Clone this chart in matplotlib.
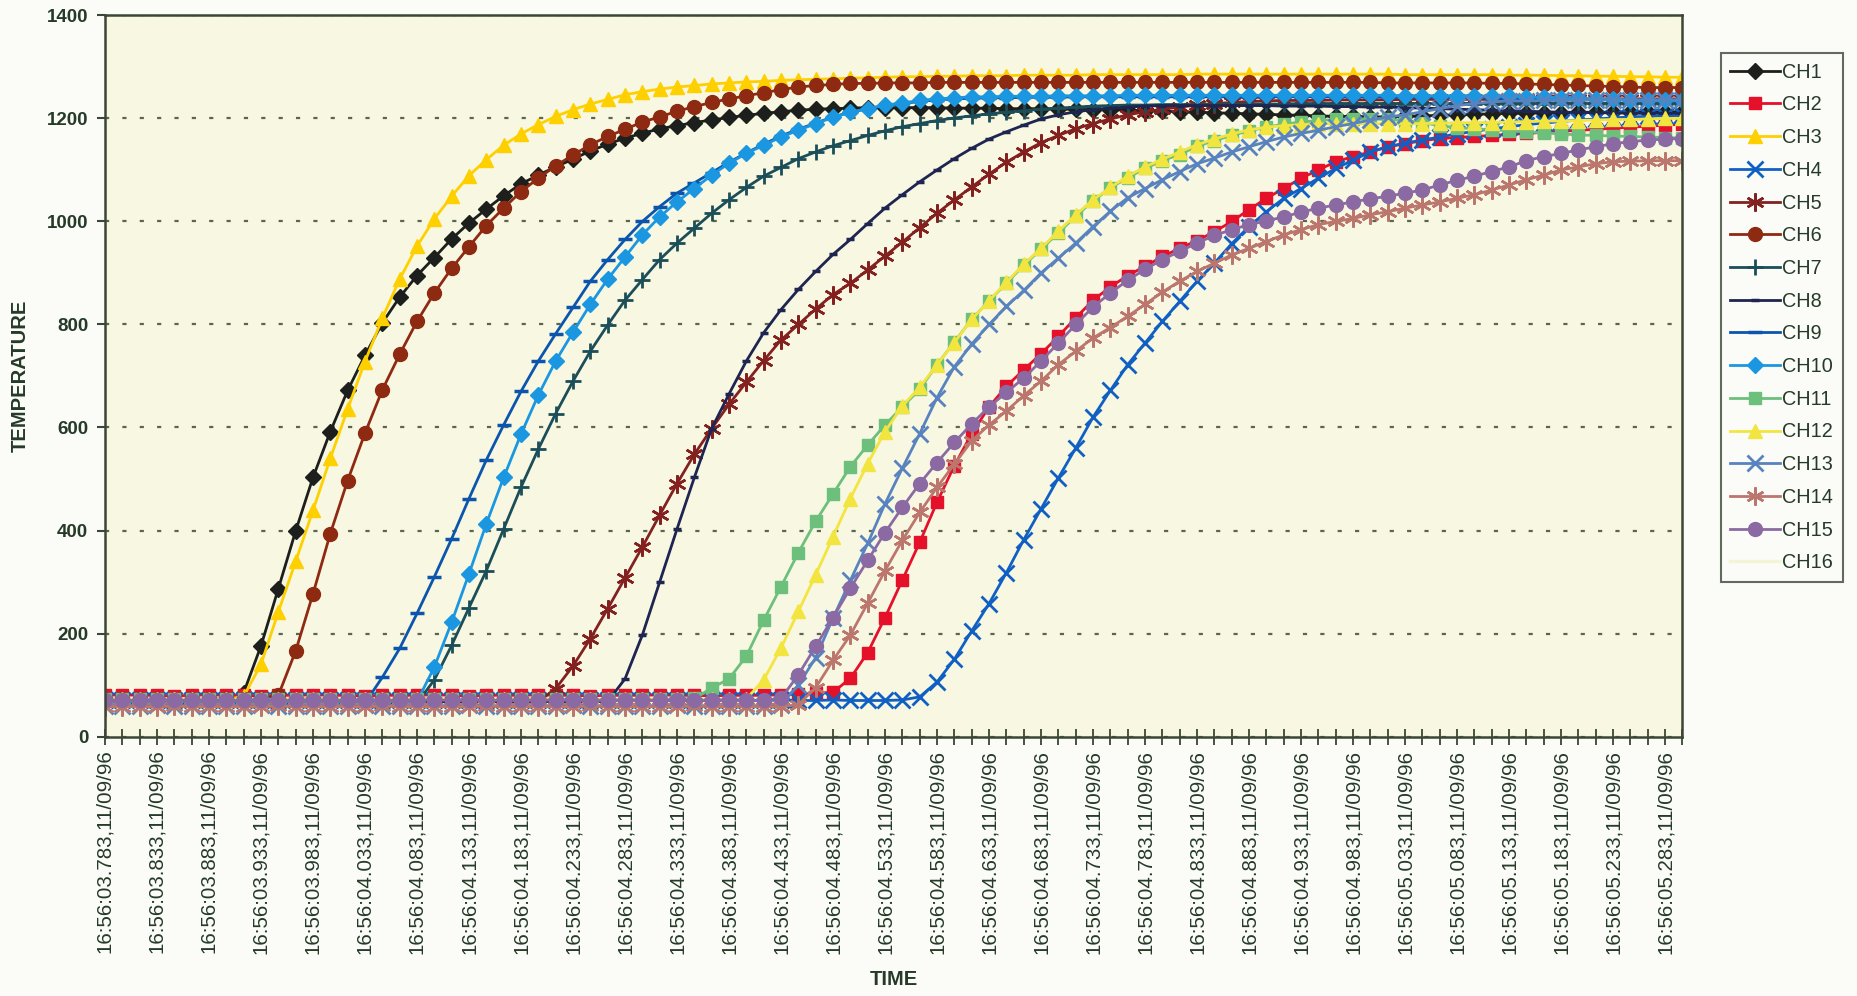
import matplotlib
matplotlib.use("Agg")
import matplotlib.pyplot as plt
import numpy as np

plt.rcParams['font.family'] = ['Liberation Sans', 'DejaVu Sans']
plt.rcParams['lines.scale_dashes'] = False

# tick labels (every third sample carries a label)
time_labels = [
    "16:56:03.783", "16:56:03.833", "16:56:03.883", "16:56:03.933", "16:56:03.983",
    "16:56:04.033", "16:56:04.083", "16:56:04.133", "16:56:04.183", "16:56:04.233",
    "16:56:04.283", "16:56:04.333", "16:56:04.383", "16:56:04.433", "16:56:04.483",
    "16:56:04.533", "16:56:04.583", "16:56:04.633", "16:56:04.683", "16:56:04.733",
    "16:56:04.783", "16:56:04.833", "16:56:04.883", "16:56:04.933", "16:56:04.983",
    "16:56:05.033", "16:56:05.083", "16:56:05.133", "16:56:05.183", "16:56:05.233",
    "16:56:05.283",
]
date_label = "11/09/96"
n_samples = 92

ch1 = [72, 72, 71, 72, 72, 71, 72, 73, 85, 176, 287, 399, 503, 592, 672, 740, 803, 853, 895, 930,
       966, 997, 1024, 1050, 1073, 1090, 1106, 1121, 1137, 1150, 1162, 1171, 1180, 1186, 1192, 1197, 1202, 1206, 1210, 1213,
       1216, 1218, 1219, 1220, 1221, 1221, 1221, 1221, 1221, 1220, 1220, 1220, 1219, 1219, 1219, 1218, 1218, 1217, 1217, 1216,
       1215, 1214, 1213, 1212, 1211, 1210, 1209, 1208, 1207, 1206, 1205, 1204, 1204, 1203, 1203, 1204, 1205, 1206, 1207, 1208,
       1209, 1210, 1210, 1211, 1211, 1212, 1212, 1212, 1213, 1213, 1213, 1213]
ch2 = [80, 81, 80, 80, 79, 80, 81, 80, 80, 79, 80, 80, 81, 80, 80, 79, 80, 80, 80, 81,
       80, 79, 80, 80, 80, 81, 80, 80, 79, 80, 80, 80, 81, 80, 80, 79, 80, 80, 80, 81,
       82, 84, 86, 113, 163, 231, 304, 377, 455, 526, 588, 640, 680, 712, 743, 777, 813, 847, 873, 895,
       913, 932, 948, 963, 980, 1000, 1023, 1045, 1064, 1084, 1100, 1116, 1126, 1135, 1145, 1151, 1157, 1161, 1163, 1165,
       1167, 1169, 1171, 1173, 1175, 1177, 1179, 1181, 1183, 1185, 1187, 1189]
ch3 = [72, 72, 72, 71, 72, 72, 72, 72, 78, 140, 242, 340, 439, 540, 636, 728, 812, 888, 952, 1005,
       1049, 1089, 1120, 1148, 1170, 1188, 1204, 1217, 1228, 1237, 1246, 1252, 1257, 1261, 1264, 1267, 1269, 1271, 1272, 1274,
       1275, 1276, 1277, 1278, 1279, 1280, 1281, 1281, 1282, 1282, 1283, 1283, 1283, 1284, 1284, 1284, 1284, 1285, 1285, 1285,
       1285, 1285, 1285, 1286, 1286, 1286, 1286, 1286, 1286, 1286, 1286, 1286, 1286, 1286, 1286, 1285, 1285, 1285, 1285, 1285,
       1285, 1284, 1284, 1284, 1283, 1283, 1282, 1282, 1281, 1281, 1280, 1280]
ch4 = [70, 70, 71, 70, 70, 70, 71, 70, 70, 70, 70, 71, 70, 70, 70, 70, 71, 70, 70, 70,
       70, 71, 70, 70, 70, 70, 71, 70, 70, 70, 70, 71, 70, 70, 70, 70, 71, 70, 70, 71,
       70, 70, 71, 70, 70, 70, 71, 77, 106, 150, 205, 258, 318, 382, 442, 502, 560, 620, 672, 722,
       764, 806, 845, 884, 919, 957, 990, 1019, 1045, 1064, 1084, 1103, 1119, 1135, 1145, 1152, 1158, 1164, 1170, 1175,
       1180, 1184, 1188, 1191, 1194, 1197, 1199, 1201, 1203, 1204, 1205, 1206]
ch5 = [68, 68, 68, 67, 68, 68, 68, 68, 67, 68, 68, 68, 68, 67, 68, 68, 68, 68, 67, 68,
       68, 68, 68, 67, 68, 68, 93, 137, 190, 248, 308, 368, 430, 491, 548, 598, 645, 688, 730, 770,
       800, 830, 858, 880, 906, 933, 960, 988, 1016, 1042, 1067, 1092, 1115, 1135, 1153, 1167, 1180, 1190, 1199, 1207,
       1213, 1218, 1222, 1226, 1229, 1231, 1233, 1234, 1235, 1235, 1235, 1236, 1236, 1236, 1236, 1237, 1237, 1237, 1237, 1237,
       1237, 1238, 1238, 1238, 1238, 1238, 1238, 1238, 1238, 1238, 1238, 1238]
ch6 = [72, 72, 72, 72, 71, 72, 72, 72, 72, 72, 80, 166, 277, 394, 497, 589, 673, 742, 806, 861,
       909, 951, 992, 1026, 1058, 1084, 1108, 1129, 1149, 1165, 1179, 1193, 1203, 1214, 1223, 1231, 1238, 1244, 1250, 1256,
       1261, 1264, 1266, 1268, 1268, 1269, 1269, 1269, 1270, 1270, 1270, 1270, 1270, 1270, 1270, 1270, 1270, 1270, 1270, 1270,
       1270, 1270, 1270, 1270, 1270, 1270, 1270, 1270, 1270, 1270, 1270, 1270, 1270, 1270, 1269, 1269, 1269, 1269, 1269, 1269,
       1268, 1268, 1267, 1266, 1265, 1264, 1263, 1262, 1261, 1260, 1260, 1260]
ch7 = [65, 65, 65, 65, 65, 64, 65, 65, 65, 65, 65, 65, 64, 65, 65, 65, 65, 65, 65, 110,
       177, 250, 322, 403, 484, 558, 627, 690, 748, 799, 847, 887, 926, 958, 987, 1016, 1042, 1066, 1088, 1105,
       1122, 1135, 1147, 1157, 1167, 1176, 1184, 1190, 1196, 1201, 1205, 1209, 1212, 1215, 1218, 1220, 1222, 1224, 1225, 1226,
       1226, 1227, 1227, 1227, 1228, 1228, 1228, 1228, 1228, 1229, 1229, 1229, 1229, 1229, 1229, 1229, 1229, 1229, 1229, 1229,
       1229, 1229, 1229, 1229, 1229, 1229, 1229, 1229, 1229, 1229, 1229, 1229]
ch8 = [68, 68, 68, 68, 68, 67, 68, 68, 68, 68, 68, 68, 67, 68, 68, 68, 68, 68, 68, 68,
       67, 68, 68, 68, 68, 68, 68, 67, 68, 68, 112, 197, 300, 403, 503, 598, 665, 729, 784, 829,
       868, 903, 936, 965, 996, 1026, 1052, 1077, 1100, 1122, 1142, 1160, 1174, 1187, 1199, 1207, 1213, 1217, 1220, 1222,
       1224, 1225, 1225, 1225, 1225, 1225, 1225, 1225, 1224, 1224, 1224, 1223, 1223, 1222, 1222, 1221, 1220, 1219, 1218, 1217,
       1216, 1215, 1214, 1213, 1212, 1212, 1211, 1211, 1210, 1210, 1210, 1210]
ch9 = [65, 65, 65, 65, 64, 65, 65, 65, 65, 65, 65, 64, 65, 65, 65, 65, 115, 171, 239, 310,
       384, 462, 537, 605, 670, 729, 782, 833, 884, 926, 965, 1000, 1029, 1055, 1075, 1095, 1115, 1133, 1150, 1166,
       1179, 1191, 1203, 1212, 1219, 1225, 1229, 1233, 1236, 1238, 1239, 1240, 1240, 1241, 1241, 1241, 1242, 1242, 1242, 1242,
       1242, 1242, 1242, 1242, 1242, 1242, 1242, 1242, 1242, 1242, 1242, 1242, 1242, 1242, 1241, 1241, 1241, 1241, 1240, 1240,
       1240, 1239, 1239, 1238, 1238, 1237, 1237, 1236, 1236, 1235, 1235, 1235]
ch10 = [68, 68, 68, 68, 68, 68, 67, 68, 68, 68, 68, 68, 68, 67, 68, 68, 68, 68, 68, 135,
        222, 316, 413, 503, 587, 663, 729, 785, 839, 888, 931, 974, 1009, 1038, 1064, 1090, 1113, 1132, 1148, 1164,
        1177, 1190, 1202, 1212, 1219, 1226, 1230, 1235, 1238, 1240, 1242, 1242, 1243, 1243, 1243, 1244, 1244, 1244, 1244, 1245,
        1245, 1245, 1245, 1245, 1245, 1245, 1245, 1245, 1245, 1245, 1245, 1245, 1245, 1245, 1245, 1244, 1244, 1244, 1244, 1244,
        1243, 1243, 1242, 1241, 1240, 1239, 1238, 1237, 1236, 1235, 1235, 1235]
ch11 = [72, 72, 72, 72, 72, 73, 72, 72, 72, 72, 72, 72, 73, 72, 72, 72, 72, 72, 72, 73,
        72, 72, 72, 72, 72, 72, 73, 72, 72, 72, 72, 72, 72, 73, 74, 94, 112, 156, 226, 291,
        357, 418, 471, 524, 566, 605, 640, 674, 722, 766, 810, 846, 880, 915, 946, 978, 1010, 1040, 1065, 1085,
        1103, 1118, 1130, 1146, 1157, 1167, 1176, 1183, 1189, 1193, 1196, 1198, 1199, 1199, 1198, 1196, 1192, 1186, 1182, 1180,
        1178, 1176, 1174, 1172, 1170, 1168, 1167, 1166, 1165, 1164, 1163, 1162]
ch12 = [72, 72, 72, 72, 73, 72, 72, 72, 72, 72, 72, 73, 72, 72, 72, 72, 72, 72, 73, 72,
        72, 72, 72, 72, 72, 73, 72, 72, 72, 72, 72, 72, 73, 72, 72, 72, 72, 73, 110, 172,
        243, 314, 388, 462, 530, 592, 642, 678, 722, 765, 810, 846, 882, 917, 948, 981, 1013, 1042, 1066, 1088,
        1106, 1121, 1135, 1149, 1160, 1170, 1178, 1183, 1186, 1188, 1189, 1190, 1190, 1190, 1190, 1190, 1190, 1191, 1191, 1192,
        1192, 1193, 1194, 1195, 1195, 1196, 1197, 1198, 1198, 1199, 1200, 1200]
ch13 = [60, 60, 60, 61, 60, 60, 60, 60, 60, 61, 60, 60, 60, 60, 60, 61, 60, 60, 60, 60,
        60, 61, 60, 60, 60, 60, 60, 61, 60, 60, 60, 60, 60, 61, 60, 60, 60, 60, 60, 62,
        100, 153, 230, 303, 375, 452, 521, 588, 658, 718, 762, 800, 835, 866, 900, 929, 958, 990, 1020, 1046,
        1064, 1081, 1097, 1112, 1123, 1135, 1145, 1155, 1164, 1171, 1177, 1184, 1190, 1197, 1203, 1207, 1213, 1219, 1225, 1229,
        1232, 1234, 1234, 1235, 1235, 1235, 1236, 1236, 1236, 1236, 1236, 1236]
ch14 = [58, 58, 58, 58, 59, 58, 58, 58, 58, 58, 59, 58, 58, 58, 58, 58, 59, 58, 58, 58,
        58, 58, 59, 58, 58, 58, 58, 58, 59, 58, 58, 58, 58, 58, 59, 58, 58, 58, 58, 58,
        62, 95, 148, 197, 259, 322, 381, 435, 484, 529, 574, 605, 632, 662, 690, 722, 748, 774, 794, 816,
        839, 863, 884, 903, 919, 935, 948, 961, 974, 984, 994, 1000, 1006, 1013, 1019, 1026, 1032, 1038, 1045, 1052,
        1061, 1071, 1081, 1090, 1100, 1106, 1112, 1116, 1117, 1118, 1118, 1118]
ch15 = [70, 70, 70, 70, 70, 71, 70, 70, 70, 70, 70, 70, 71, 70, 70, 70, 70, 70, 70, 71,
        70, 70, 70, 70, 70, 70, 71, 70, 70, 70, 70, 70, 70, 71, 70, 70, 70, 70, 70, 74,
        120, 175, 231, 288, 342, 396, 445, 491, 532, 571, 607, 640, 668, 696, 729, 764, 800, 834, 861, 886,
        907, 926, 942, 958, 973, 984, 994, 1001, 1009, 1018, 1026, 1032, 1038, 1044, 1049, 1055, 1061, 1071, 1080, 1088,
        1097, 1106, 1118, 1126, 1132, 1139, 1145, 1151, 1155, 1158, 1160, 1161]
ch16 = []  # only appears in the legend, too pale to read on the chart

channels = ["CH1", "CH2", "CH3", "CH4", "CH5", "CH6", "CH7", "CH8",
            "CH9", "CH10", "CH11", "CH12", "CH13", "CH14", "CH15", "CH16"]
series = [ch1, ch2, ch3, ch4, ch5, ch6, ch7, ch8,
          ch9, ch10, ch11, ch12, ch13, ch14, ch15, ch16]

asterisk = (6, 2, 0)
# colour, marker, markersize, marker edge width
styles = {
    "CH1": ("#1c1f1c", "D", 8, 1.0),
    "CH2": ("#e5102a", "s", 9, 1.0),
    "CH3": ("#ffd000", "^", 10, 1.0),
    "CH4": ("#1060c4", "x", 11, 2.0),
    "CH5": ("#832020", asterisk, 13, 1.8),
    "CH6": ("#8e2a12", "o", 10, 1.0),
    "CH7": ("#1b4e58", "+", 12, 2.0),
    "CH8": ("#1d2550", "_", 6, 2.5),
    "CH9": ("#0b55ad", "_", 10, 2.5),
    "CH10": ("#1a97e0", "D", 8, 1.0),
    "CH11": ("#6dbf7c", "s", 9, 1.0),
    "CH12": ("#f3e540", "^", 10, 1.0),
    "CH13": ("#5883bf", "x", 11, 2.0),
    "CH14": ("#bb766e", asterisk, 13, 1.8),
    "CH15": ("#8b6aa3", "o", 10, 1.0),
    "CH16": ("#f4f4d6", None, 0, 0.0),
}

text_col = "#263a28"
axis_col = "#3b4636"

fig = plt.figure(figsize=(18.58, 9.96), dpi=100, facecolor="#fbfcf8")
ax = fig.add_axes([0.0565, 0.2605, 0.849, 0.724])
ax.set_facecolor("#f8f7e2")

x = np.arange(n_samples)
for name, vals in zip(channels, series):
    col, mk, ms, mew = styles[name]
    if len(vals) == 0:
        ax.plot([], [], color=col, lw=2.5, label=name)
        continue
    ax.plot(x[:len(vals)], vals, color=col, lw=2.0, marker=mk, markersize=ms,
            markeredgewidth=mew, markerfacecolor=col, markeredgecolor=col, label=name)

ax.set_xlim(0, n_samples - 1)
ax.set_ylim(0, 1400)
ax.set_yticks(np.arange(0, 1401, 200))
ax.set_yticklabels([str(v) for v in range(0, 1401, 200)], fontsize=13.5, fontweight="bold", color=text_col)

ax.set_xticks(x)
labels = [""] * n_samples
for k, t in enumerate(time_labels):
    labels[3 * k] = t + "," + date_label
ax.set_xticklabels(labels, rotation=90, fontsize=14.8, color=text_col)

ax.tick_params(axis="y", direction="out", length=6, width=1.5, color=axis_col, pad=6)
ax.tick_params(axis="x", direction="inout", length=11, width=1.3, color=axis_col, pad=4)

for sp in ax.spines.values():
    sp.set_color(axis_col)
    sp.set_linewidth(1.8)

ax.yaxis.grid(True, linestyle=(0, (3, 9.5)), color="#5b6650", linewidth=1.6)
ax.set_axisbelow(True)

ax.set_ylabel("TEMPERATURE", fontsize=14.5, fontweight="bold", color=text_col, labelpad=12)
ax.set_xlabel("TIME", fontsize=14.5, fontweight="bold", color=text_col, labelpad=12)

leg = ax.legend(loc="upper left", bbox_to_anchor=(0.926, 0.947), bbox_transform=fig.transFigure,
                frameon=True, fancybox=False, edgecolor=axis_col, facecolor="#fbfcf8",
                fontsize=14.3, handlelength=2.5, handletextpad=0.1, labelspacing=0.69,
                borderpad=0.5, borderaxespad=0)
leg.get_frame().set_linewidth(1.5)
for t in leg.get_texts():
    t.set_color(text_col)

fig.savefig("out.png", dpi=100, facecolor=fig.get_facecolor())
